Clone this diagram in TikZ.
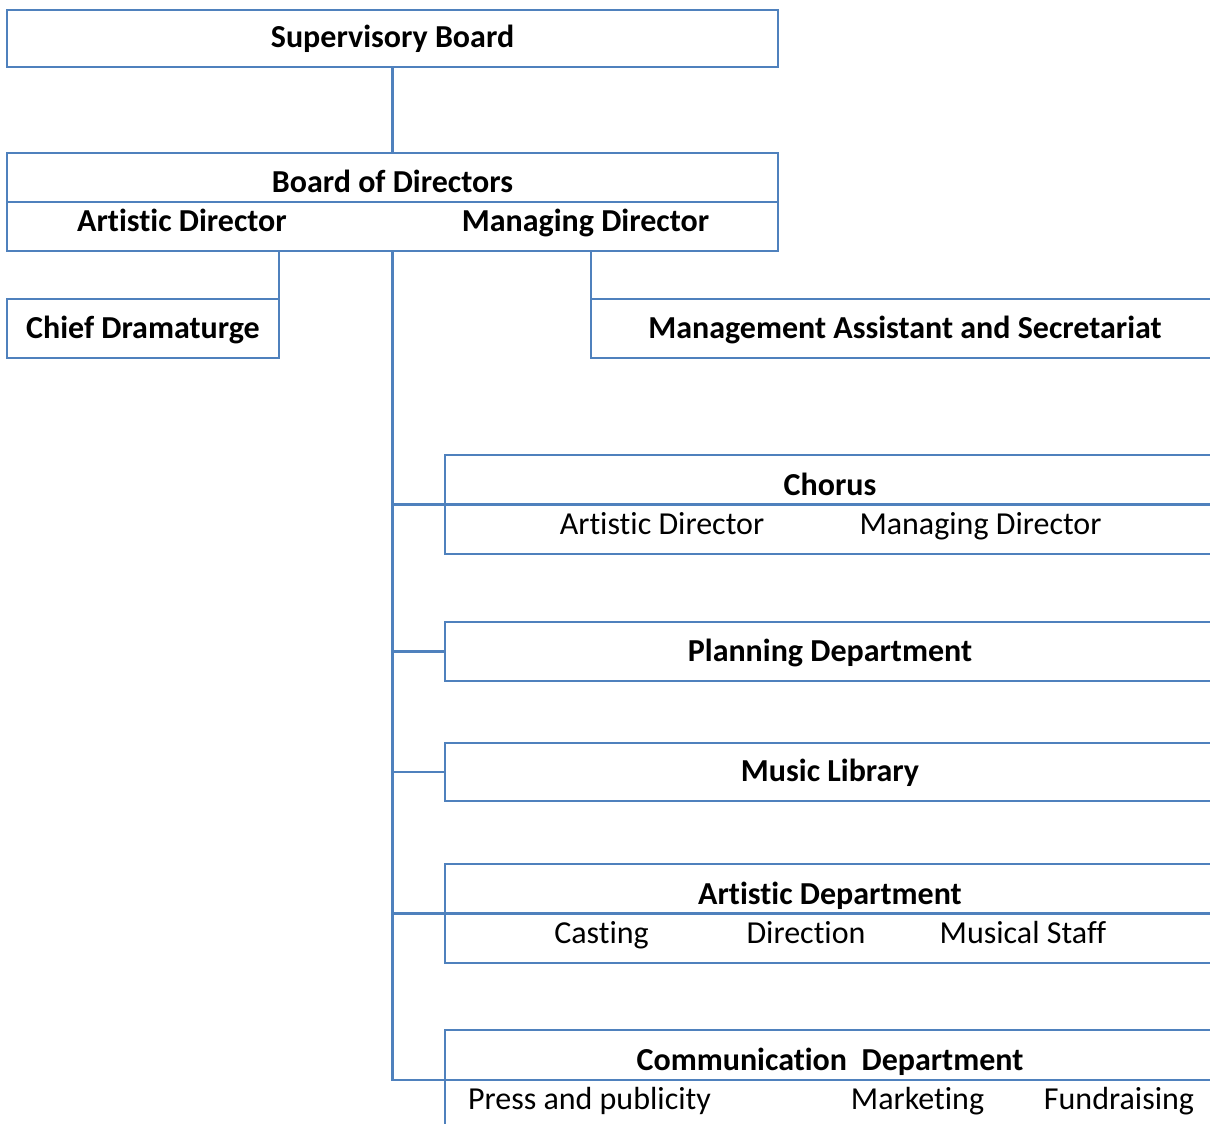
\documentclass[tikz,border=0pt]{standalone}
\usepackage{fontspec}
\setmainfont{Carlito}[Ligatures=NoCommon]
\usetikzlibrary{positioning}

\definecolor{boxblue}{RGB}{79,129,189}
\newcommand\orgsize{\fontsize{32}{38}\selectfont}
\tikzset{
  box/.style={draw=boxblue, line width=2.2pt, inner sep=0pt, outer sep=0pt,
    text height=19pt, text depth=0pt, font=\orgsize\bfseries},
  twobox/.style={box, text height=0pt, text depth=19pt},
  dept/.style={minimum width=770pt},
  role/.style={anchor=base, inner sep=0pt, font=\orgsize},
  boldrole/.style={role, font=\orgsize\bfseries},
  link/.style={draw=boxblue, line width=2.2pt},
}

\begin{document}
\begin{tikzpicture}[x=1pt, y=-1pt]
  \useasboundingbox (0,0) rectangle (1210,1124);
  \clip (0,0) rectangle (1210,1124);

  \node[box, minimum width=771pt, minimum height=57pt] (super) at (392.5,38.5) {Supervisory Board};
  \node[twobox, minimum width=771pt, minimum height=98pt] (board) [below=86pt of super] {Board of Directors};
  \node[box, minimum width=272pt, minimum height=59pt] (chief) at (143,328.5) {Chief Dramaturge};
  \node[box, minimum width=628pt, minimum height=59pt] (mgmt) at (905,328.5) {Management Assistant and Secretariat};

  \node[twobox, dept, minimum height=99pt] (chorus) at (830,504.5) {Chorus};
  \node[box, dept, minimum height=59pt] (planning) [below=68pt of chorus] {Planning Department};
  \node[box, dept, minimum height=58pt] (library) [below=62pt of planning] {Music Library};
  \node[twobox, dept, minimum height=99pt] (artdept) [below=63pt of library] {Artistic Department};
  \node[twobox, dept, minimum height=100pt] (comm) [below=67pt of artdept] {Communication\ \ Department};

  % second lines of the split boxes
  \foreach \b in {board,chorus,artdept,comm}
    \draw[link] (\b.west) -- (\b.east);

  \node[boldrole] (board-art) at (182,231) {Artistic Director};
  \node[boldrole] (board-man) at (585.5,231) {Managing Director};
  \node[role] (chorus-art) at (662,534) {Artistic Director};
  \node[role] (chorus-man) at (980.5,534) {Managing Director};
  \node[role] (casting) at (601.5,943) {Casting};
  \node[role] (direction) at (806,943) {Direction};
  \node[role] (staff) at (1023,943) {Musical Staff};
  \node[role] (press) at (589.5,1109) {Press and publicity};
  \node[role] (marketing) at (917.5,1109) {Marketing};
  \node[role] (fundraising) at (1119,1109) {Fundraising};

  % connectors
  \draw[link] (super) -- (board);
  \draw[link] (chief.north east |- board.south) -- (chief.north east);
  \draw[link] (mgmt.north west |- board.south) -- (mgmt.north west);
  \foreach \d in {chorus,planning,library,artdept,comm}
    \draw[link] (board.south) |- (\d.west);
\end{tikzpicture}
\end{document}
